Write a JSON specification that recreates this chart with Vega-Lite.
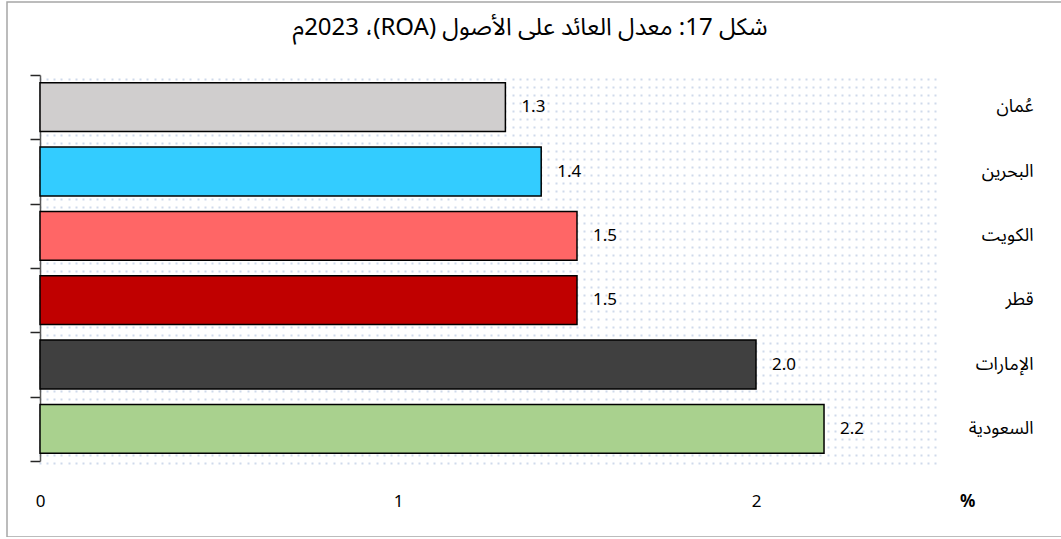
{
  "$schema": "https://vega.github.io/schema/vega-lite/v6.json",
  "width": 1060,
  "height": 535,
  "autosize": {"type": "none"},
  "padding": {"left": 7, "top": 2, "right": 0, "bottom": 0},
  "background": "white",
  "config": {
    "view": {"stroke": "#a6a6a6", "strokeWidth": 1.5},
    "font": "Noto Sans Arabic, Noto Sans, DejaVu Sans"
  },
  "title": {
    "text": "\u202bشكل 17: معدل العائد على الأصول (ROA)، 2023م\u202c",
    "anchor": "middle",
    "frame": "group",
    "fontSize": 24,
    "fontWeight": "normal",
    "color": "black",
    "font": "Noto Sans Arabic, Noto Sans, DejaVu Sans",
    "baseline": "alphabetic",
    "offset": -36,
    "dx": -7,
    "dy": 21
  },
  "data": {
    "values": [
      {"country": "عُمان", "value": 1.3},
      {"country": "البحرين", "value": 1.4},
      {"country": "الكويت", "value": 1.5},
      {"country": "قطر", "value": 1.5},
      {"country": "الإمارات", "value": 2.0},
      {"country": "السعودية", "value": 2.19}
    ]
  },
  "layer": [
    {
      "mark": {"type": "bar", "stroke": "black", "strokeWidth": 1.5, "height": {"band": 0.76}},
      "encoding": {
        "y": {
          "field": "country", "type": "nominal", "sort": null,
          "scale": {"range": [73, 459], "paddingInner": 0, "paddingOuter": 0},
          "axis": {
            "orient": "left", "labels": false, "title": null, "offset": -33,
            "domainColor": "#595959", "domainWidth": 1.5,
            "tickColor": "#262626", "tickSize": 10, "tickWidth": 1.5,
            "tickBand": "extent", "grid": false
          }
        },
        "x": {
          "field": "value", "type": "quantitative",
          "scale": {"domain": [0, 2.7], "range": [33, 999.6], "nice": false, "zero": true},
          "axis": {
            "title": null, "labels": false, "ticks": false, "domain": false,
            "grid": true, "tickCount": 135,
            "gridColor": "#cfdaeb", "gridWidth": 2, "gridDash": [2, 6],
            "gridOpacity": {"condition": {"test": "datum.value > 2.501", "value": 0}, "value": 1}
          }
        },
        "fill": {
          "field": "country", "type": "nominal", "legend": null,
          "scale": {
            "domain": ["عُمان", "البحرين", "الكويت", "قطر", "الإمارات", "السعودية"],
            "range": ["#d0cece", "#33ccff", "#ff6666", "#c00000", "#404040", "#a9d18e"]
          }
        }
      }
    },
    {
      "mark": {"type": "text", "align": "left", "baseline": "middle", "dx": 16, "fontSize": 17, "color": "black", "font": "Noto Sans, DejaVu Sans"},
      "encoding": {
        "y": {
          "field": "country", "type": "nominal", "sort": null,
          "axis": {
            "orient": "right", "title": null, "ticks": false, "domain": false, "grid": false,
            "labelAlign": "right", "labelBaseline": "middle", "labelPadding": 0, "offset": -34,
            "labelFontSize": 18, "labelColor": "black",
            "labelFont": "Noto Sans Arabic, Noto Sans, DejaVu Sans"
          }
        },
        "x": {
          "field": "value", "type": "quantitative",
          "axis": {
            "orient": "bottom", "title": null, "values": [0, 1, 2, 2.59],
            "labelExpr": "datum.value > 2.5 ? '%' : '' + datum.value",
            "grid": false, "ticks": false, "domain": false, "offset": -36,
            "labelFontSize": 17, "labelBaseline": "middle", "labelPadding": 0,
            "labelFlush": false, "labelOverlap": false, "labelColor": "black",
            "labelFont": "Noto Sans, DejaVu Sans",
            "labelFontWeight": {"condition": {"test": "datum.value > 2.5", "value": "bold"}, "value": "normal"}
          }
        },
        "text": {"field": "value", "type": "quantitative", "format": ".1f"}
      }
    }
  ],
  "resolve": {"axis": {"x": "independent", "y": "independent"}}
}
